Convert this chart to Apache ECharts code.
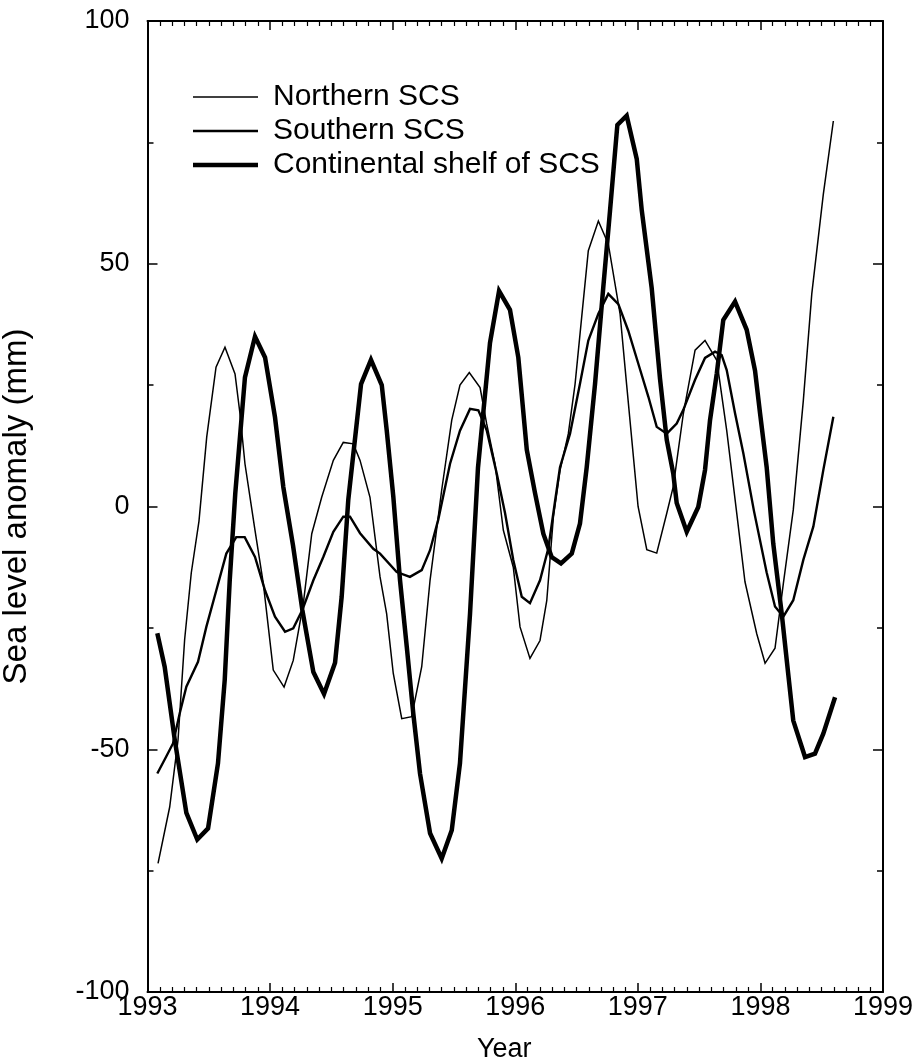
<!DOCTYPE html>
<html>
<head>
<meta charset="utf-8">
<script src="https://cdn.jsdelivr.net/npm/echarts@6/dist/echarts.min.js"></script>
<style>
  html, body { margin: 0; padding: 0; background: #fff; }
  #chart { width: 918px; height: 1064px; }
</style>
</head>
<body>
<div id="chart"></div>
<script>
// Sea level anomaly (mm) in the South China Sea, 1993–1998.6

const northernTime = [1993.086, 1993.181, 1993.249, 1993.303, 1993.357, 1993.420, 1993.483, 1993.559, 1993.632, 1993.714,
  1993.755, 1993.795, 1993.877, 1993.945, 1994.026, 1994.114, 1994.189, 1994.271, 1994.340, 1994.421,
  1994.516, 1994.597, 1994.679, 1994.734, 1994.815, 1994.897, 1994.951, 1995.005, 1995.074, 1995.155,
  1995.237, 1995.305, 1995.400, 1995.482, 1995.549, 1995.625, 1995.713, 1995.767, 1995.835, 1995.903,
  1995.984, 1996.039, 1996.120, 1996.202, 1996.257, 1996.311, 1996.365, 1996.433, 1996.488, 1996.542,
  1996.596, 1996.678, 1996.759, 1996.855, 1996.909, 1997.002, 1997.073, 1997.154, 1997.236, 1997.289,
  1997.371, 1997.467, 1997.548, 1997.644, 1997.725, 1997.807, 1997.874, 1997.970, 1998.038, 1998.119,
  1998.187, 1998.268, 1998.350, 1998.419, 1998.513, 1998.595];
const northernSLA = [-73.5, -61.9, -48.1, -27.4, -13.7, -3.0, 14.3, 28.7, 32.8, 27.3,
  19.0, 8.8, -4.9, -15.9, -33.7, -37.2, -31.7, -20.0, -5.6, 1.9,
  9.5, 13.2, 12.9, 9.5, 1.9, -14.5, -22.1, -34.4, -43.7, -43.3,
  -33.0, -15.2, 3.4, 17.8, 25.0, 27.6, 24.5, 17.0, 8.8, -4.9,
  -12.5, -24.8, -31.3, -27.6, -19.4, -2.2, 7.4, 15.0, 25.2, 39.0,
  52.7, 58.8, 54.1, 39.7, 25.0, 0.0, -8.9, -9.6, -1.4, 4.1,
  19.1, 32.2, 34.2, 30.1, 15.7, -1.4, -15.5, -26.2, -32.3, -29.2,
  -15.9, -0.7, 21.8, 43.8, 64.3, 79.4];

const southernTime = [1993.080, 1993.153, 1993.208, 1993.263, 1993.317, 1993.412, 1993.480, 1993.561, 1993.643, 1993.724,
  1993.793, 1993.877, 1993.959, 1994.040, 1994.122, 1994.189, 1994.263, 1994.353, 1994.434, 1994.516,
  1994.597, 1994.652, 1994.734, 1994.842, 1994.897, 1995.033, 1995.141, 1995.237, 1995.305, 1995.372,
  1995.468, 1995.549, 1995.631, 1995.699, 1995.767, 1995.849, 1995.917, 1995.984, 1996.053, 1996.120,
  1996.202, 1996.270, 1996.324, 1996.365, 1996.447, 1996.528, 1996.596, 1996.678, 1996.759, 1996.841,
  1996.922, 1997.004, 1997.086, 1997.154, 1997.236, 1997.317, 1997.371, 1997.467, 1997.548, 1997.630,
  1997.684, 1997.725, 1997.793, 1997.861, 1997.948, 1998.051, 1998.119, 1998.187, 1998.268, 1998.350,
  1998.432, 1998.513, 1998.595];
const southernSLA = [-55.0, -51.5, -48.8, -42.6, -37.1, -32.0, -24.8, -17.3, -9.7, -6.3,
  -6.3, -10.4, -17.3, -22.7, -25.8, -25.1, -21.3, -15.2, -10.4, -5.2,
  -2.1, -2.1, -5.5, -8.7, -9.7, -13.5, -14.5, -13.1, -9.0, -2.7,
  8.8, 15.6, 20.1, 19.8, 15.7, 6.8, -1.4, -11.0, -18.6, -19.9,
  -15.2, -8.6, 1.0, 8.1, 15.0, 25.3, 34.2, 39.7, 43.8, 41.7,
  36.2, 29.4, 22.6, 16.4, 15.0, 17.1, 19.9, 26.1, 30.6, 31.9,
  31.2, 28.1, 19.2, 10.9, -1.0, -13.6, -20.6, -22.7, -19.3, -11.0,
  -4.1, 7.5, 18.5];

const shelfTime = [1993.080, 1993.140, 1993.222, 1993.317, 1993.406, 1993.494, 1993.575, 1993.630, 1993.671, 1993.716,
  1993.795, 1993.877, 1993.959, 1994.040, 1994.108, 1994.187, 1994.263, 1994.353, 1994.440, 1994.530,
  1994.584, 1994.638, 1994.742, 1994.823, 1994.911, 1994.951, 1995.005, 1995.060, 1995.115, 1995.168,
  1995.223, 1995.305, 1995.400, 1995.482, 1995.549, 1995.631, 1995.696, 1995.794, 1995.868, 1995.957,
  1996.025, 1996.094, 1996.161, 1996.229, 1996.297, 1996.373, 1996.461, 1996.528, 1996.583, 1996.651,
  1996.718, 1996.773, 1996.833, 1996.909, 1996.991, 1997.032, 1997.113, 1997.181, 1997.236, 1997.289,
  1997.317, 1997.399, 1997.493, 1997.548, 1997.589, 1997.644, 1997.697, 1997.793, 1997.888, 1997.956,
  1997.997, 1998.051, 1998.105, 1998.174, 1998.215, 1998.268, 1998.364, 1998.445, 1998.513, 1998.609];
const shelfSLA = [-26.1, -33.0, -48.0, -63.1, -68.6, -66.3, -52.9, -35.7, -15.1, 2.7,
  26.6, 35.0, 30.7, 18.4, 4.0, -8.0, -21.3, -34.1, -38.6, -32.2,
  -18.6, 1.4, 25.2, 30.2, 25.0, 15.8, 2.1, -15.2, -28.9, -42.6,
  -55.0, -67.3, -72.5, -66.7, -52.9, -22.1, 8.0, 33.7, 44.4, 40.5,
  30.7, 11.7, 2.8, -5.6, -10.4, -11.7, -9.7, -3.5, 8.1, 25.3,
  45.1, 60.9, 78.6, 80.5, 71.6, 61.0, 45.0, 26.3, 13.7, 6.8,
  0.7, -5.2, -0.1, 7.5, 17.8, 27.4, 38.4, 42.2, 36.4, 28.0,
  19.2, 8.1, -7.7, -22.1, -31.7, -44.1, -51.6, -50.9, -46.8, -39.3];

const seriesNames = ['Northern SCS', 'Southern SCS', 'Continental shelf of SCS'];
const lineWidths = [1.5, 2.4, 4.5];
const yearTicks = [1993, 1999];
const slaRange = [-100, 100];

const FONT = '"Liberation Sans", Arial, Helvetica, sans-serif';
const pairs = (t, v) => t.map((x, i) => [x, v[i]]);
// legend key: a plain bar as thick as the series line
const keyIcon = w => 'path://M0 0H66V' + w + 'H0Z';

const chart = echarts.init(document.getElementById('chart'), null, { renderer: 'canvas' });

const baseX = {
  type: 'value', min: yearTicks[0], max: yearTicks[1], interval: 1,
  axisLine: { show: true, onZero: false, lineStyle: { color: '#000', width: 2 } },
  axisTick: { show: true, inside: true, length: 9, lineStyle: { color: '#000', width: 1.5 } },
  minorTick: { show: true, splitNumber: 10, length: 5, lineStyle: { color: '#000', width: 1.2 } },
  splitLine: { show: false }, minorSplitLine: { show: false }
};
const baseY = {
  type: 'value', min: slaRange[0], max: slaRange[1], interval: 50,
  axisLine: { show: true, onZero: false, lineStyle: { color: '#000', width: 2 } },
  axisTick: { show: true, inside: true, length: 10, lineStyle: { color: '#000', width: 1.5 } },
  minorTick: { show: true, splitNumber: 2, length: 6, lineStyle: { color: '#000', width: 1.5 } },
  splitLine: { show: false }, minorSplitLine: { show: false }
};

const lineSeries = (i, t, v) => ({
  name: seriesNames[i], type: 'line', data: pairs(t, v),
  xAxisIndex: 0, yAxisIndex: 0,
  showSymbol: false, symbol: 'none', smooth: false,
  lineStyle: { color: '#000', width: lineWidths[i], join: 'miter' },
  itemStyle: { color: '#000', borderWidth: 0 },
  emphasis: { disabled: true }
});

chart.setOption({
  animation: false,
  backgroundColor: '#fff',
  textStyle: { fontFamily: FONT, color: '#000' },
  grid: { left: 147.5, right: 35, top: 21, bottom: 72, containLabel: false, outerBoundsMode: 'none' },
  legend: {
    show: true, orient: 'vertical', left: 188, top: 75,
    itemWidth: 65, itemHeight: 14, itemGap: 0,
    symbolKeepAspect: true,
    data: seriesNames.map((n, i) => ({ name: n, icon: keyIcon(lineWidths[i]) })),
    itemStyle: { color: '#000', borderWidth: 0 },
    textStyle: { fontFamily: FONT, fontSize: 30, lineHeight: 34, color: '#000', padding: [0, 0, 0, 10] },
    selectedMode: false
  },
  xAxis: [
    Object.assign({}, baseX, {
      position: 'bottom',
      axisLabel: { show: true, color: '#000', fontFamily: FONT, fontSize: 27, margin: 2,
        formatter: v => String(v) },
      name: 'Year', nameLocation: 'middle', nameGap: 44,
      nameTextStyle: { fontFamily: FONT, fontSize: 27, color: '#000', padding: [0, 22, 0, 0] }
    }),
    Object.assign({}, baseX, { position: 'top', axisLabel: { show: false } })
  ],
  yAxis: [
    Object.assign({}, baseY, {
      position: 'left',
      axisLabel: { show: true, color: '#000', fontFamily: FONT, fontSize: 27, margin: 18 },
      name: 'Sea level anomaly (mm)', nameLocation: 'middle', nameGap: 114, nameRotate: 90,
      nameTextStyle: { fontFamily: FONT, fontSize: 33, color: '#000' }
    }),
    Object.assign({}, baseY, { position: 'right', axisLabel: { show: false } })
  ],
  series: [
    lineSeries(0, northernTime, northernSLA),
    lineSeries(1, southernTime, southernSLA),
    lineSeries(2, shelfTime, shelfSLA)
  ]
});
</script>
</body>
</html>
